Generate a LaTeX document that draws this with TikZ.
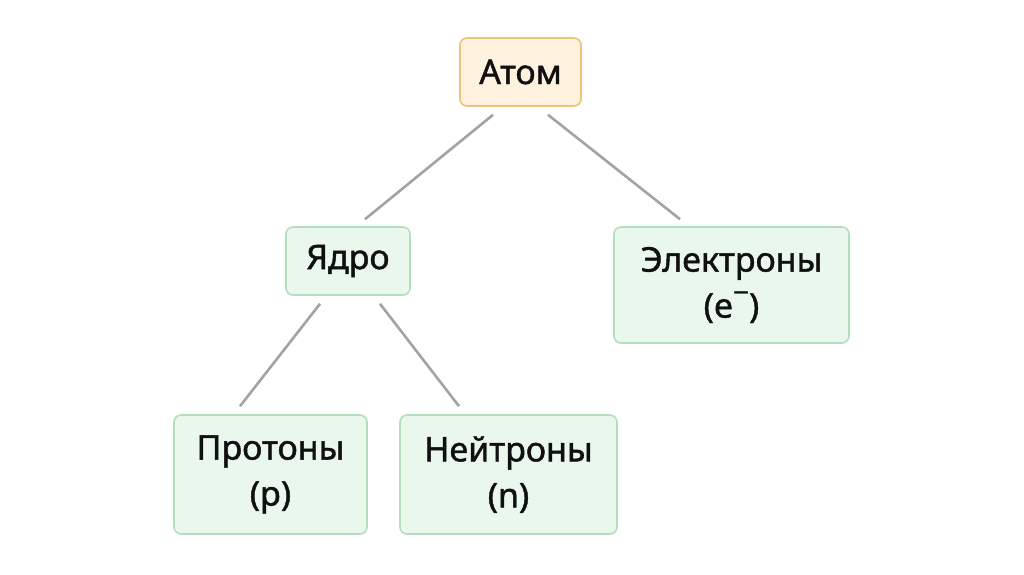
\documentclass[tikz,border=0pt]{standalone}
\usepackage{fontspec}
\setmainfont[FakeBold=1.3]{Noto Sans}
\usetikzlibrary{calc}
\definecolor{gfill}{HTML}{E9F7EC}
\definecolor{gdraw}{HTML}{B4DFBF}
\definecolor{ofill}{HTML}{FEF1DD}
\definecolor{odraw}{HTML}{EEC27A}
\definecolor{lgray}{HTML}{A3A3A3}
\definecolor{txt}{HTML}{101010}
\newcommand{\supminus}{\raisebox{0.45em}{\fontsize{28}{28}\selectfont −}}
\begin{document}
\begin{tikzpicture}[x=1pt,y=-1pt,
  box/.style={draw=gdraw,fill=gfill,line width=1.6pt,rounded corners=7pt,inner sep=0pt,
    text=txt,font=\fontsize{34}{46}\selectfont,align=center},
  obox/.style={box,draw=odraw,fill=ofill},
  link/.style={draw=lgray,line width=2.6pt}]
\useasboundingbox (0,0) rectangle (1024,574);
\node[obox,minimum width=121pt,minimum height=68pt] (atom) at (520.5,72) {Атом};
\node[box,minimum width=124pt,minimum height=68pt] (yadro) at (348,261) {Ядро};
\node[box,minimum width=235pt,minimum height=116pt] (el) at (731.5,285) {Электроны\\(e\supminus)};
\node[box,minimum width=193pt,minimum height=119pt] (pr) at (270.5,474.5) {Протоны\\(p)};
\node[box,minimum width=217pt,minimum height=119pt] (ne) at (508.5,474.5) {Нейтроны\\(n)};
\path[link] ($(atom.south)+(-27.5,8)$) -- ($(yadro.north)+(17,-7)$);
\path[link] ($(atom.south)+(27.5,8)$) -- ($(el.north)+(-51.5,-7)$);
\path[link] ($(yadro.south)+(-28,8)$) -- ($(pr.north)+(-30.5,-8)$);
\path[link] ($(yadro.south)+(32,8)$) -- ($(ne.north)+(-49.5,-8)$);
\end{tikzpicture}
\end{document}
